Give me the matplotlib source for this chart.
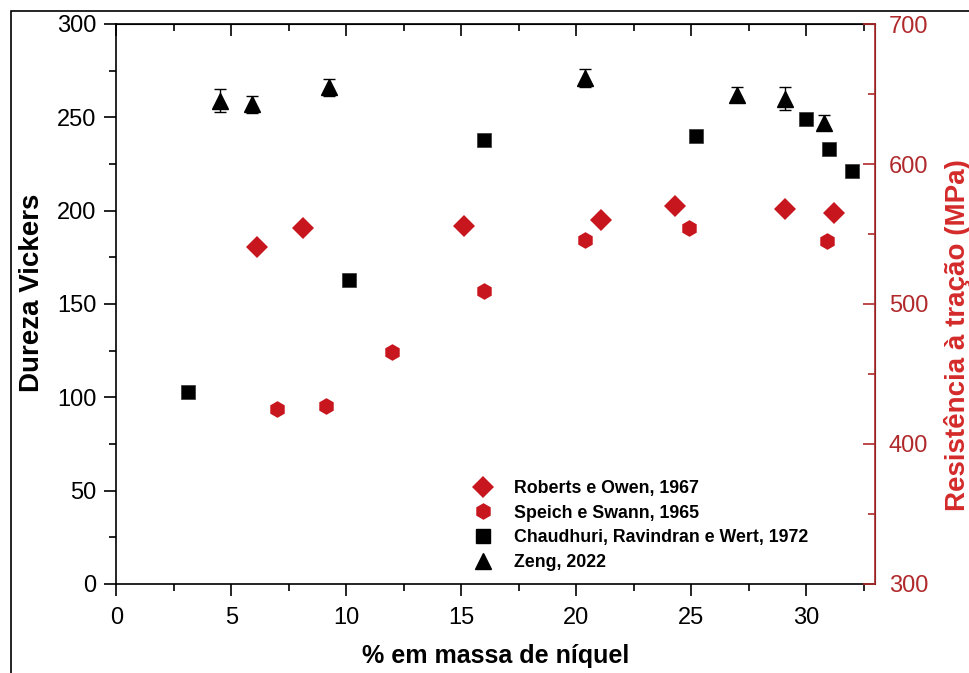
import numpy as np
import matplotlib
matplotlib.use("Agg")
import matplotlib.pyplot as plt
from matplotlib.lines import Line2D
from matplotlib.patches import Rectangle
from matplotlib.ticker import MultipleLocator

plt.rcParams["font.family"] = ["Liberation Sans", "DejaVu Sans"]

# Roberts e Owen, 1967 -- tensile strength (MPa)
roberts_ni = [6.1, 8.1, 15.1, 21.1, 24.3, 29.1, 31.2]
roberts_mpa = [541, 554, 556, 560, 570, 568, 565]

# Speich e Swann, 1965 -- tensile strength (MPa)
speich_ni = [7.0, 9.1, 12.0, 16.0, 20.4, 24.9, 30.9]
speich_mpa = [425, 427, 466, 509, 546, 554, 545]

# Chaudhuri, Ravindran e Wert, 1972 -- Vickers hardness
chaud_ni = [3.1, 10.1, 16.0, 25.2, 30.0, 31.0, 32.0]
chaud_hv = [103, 163, 238, 240, 249, 233, 221]

# Zeng, 2022 -- Vickers hardness with spread
zeng_ni = [4.5, 5.9, 9.25, 20.4, 27.0, 29.1, 30.8]
zeng_hv = [259, 257, 266, 271, 262, 260, 247]
zeng_err = [6, 4.5, 4.5, 5, 4, 6, 4]

red = "#C8161E"
axred = "#B02A2C"
labred = "#D42A2A"

W, H = 970, 673
fig = plt.figure(figsize=(W / 100, H / 100), dpi=100)
ax = fig.add_axes([116.5 / W, 1 - 584 / H, (875 - 116.5) / W, (584 - 24) / H])
ax2 = ax.twinx()

ax.errorbar(zeng_ni, zeng_hv, yerr=zeng_err, fmt="^", color="black", ms=11.5,
            elinewidth=1.0, capsize=4.5, capthick=1.0, zorder=3)
ax.plot(chaud_ni, chaud_hv, "s", color="black", ms=9.5, mec="#333333", mew=0.5, zorder=3)
ax2.plot(roberts_ni, roberts_mpa, "D", color=red, ms=11.5, mew=0, zorder=3)
ax2.plot(speich_ni, speich_mpa, "h", color=red, ms=12, mew=0, zorder=3)

ax.set_xlim(0, 33)
ax.set_ylim(0, 300)
ax2.set_ylim(300, 700)

ax.xaxis.set_major_locator(MultipleLocator(5))
ax.xaxis.set_minor_locator(MultipleLocator(2.5))
ax.yaxis.set_major_locator(MultipleLocator(50))
ax.yaxis.set_minor_locator(MultipleLocator(25))
ax2.yaxis.set_major_locator(MultipleLocator(100))
ax2.yaxis.set_minor_locator(MultipleLocator(50))

ax.tick_params(which="both", direction="out", top=False, right=False,
               labelsize=17, width=1.2)
ax.tick_params(axis="x", pad=8)
ax.tick_params(axis="y", pad=6)
ax.tick_params(which="major", length=8.5)
ax.tick_params(which="minor", length=5)

top = ax.secondary_xaxis("top")
top.xaxis.set_major_locator(MultipleLocator(5))
top.xaxis.set_minor_locator(MultipleLocator(2.5))
top.tick_params(which="both", direction="in", labeltop=False, width=1.2)
top.tick_params(which="major", length=8.5)
top.tick_params(which="minor", length=5)

ax2.tick_params(which="both", direction="in", colors=axred, labelsize=17,
                width=1.2, pad=10)
ax2.tick_params(which="major", length=8.5)
ax2.tick_params(which="minor", length=5)

for s in ["left", "bottom"]:
    ax.spines[s].set_linewidth(1.2)
top.spines["top"].set_linewidth(1.2)
ax2.spines["right"].set_color(axred)
ax2.spines["right"].set_linewidth(1.2)
for s in ["left", "bottom", "top"]:
    ax2.spines[s].set_visible(False)

ax.set_xlabel("% em massa de níquel", fontsize=18, fontweight="bold", labelpad=11)
ax.set_ylabel("Dureza Vickers", fontsize=20, fontweight="bold")
ax.yaxis.set_label_coords(-0.094, 0.52)
ax2.set_ylabel("Resistência à tração (MPa)", fontsize=20, fontweight="bold",
               color=labred)
ax2.yaxis.set_label_coords(1.091, 0.445)

handles = [
    Line2D([], [], ls="none", marker="D", color=red, ms=11, mew=0),
    Line2D([], [], ls="none", marker="h", color=red, ms=12, mew=0),
    Line2D([], [], ls="none", marker="s", color="black", ms=9.5),
    Line2D([], [], ls="none", marker="^", color="black", ms=11),
]
labels = ["Roberts e Owen, 1967", "Speich e Swann, 1965",
          "Chaudhuri, Ravindran e Wert, 1972", "Zeng, 2022"]
fig.legend(handles, labels, loc="upper left",
           bbox_to_anchor=(474 / W, 1 - 480 / H), frameon=False,
           prop={"size": 12.8, "weight": "bold"}, handlelength=1.0,
           handletextpad=1.25, labelspacing=0.43, borderpad=0, borderaxespad=0)

# outer frame around the figure
fig.add_artist(Rectangle((11 / W, -0.1), 1.2, 1 - 11 / H + 0.1,
                         transform=fig.transFigure, fill=False,
                         edgecolor="black", lw=1.2, clip_on=False))

fig.savefig("out.png", dpi=100)
